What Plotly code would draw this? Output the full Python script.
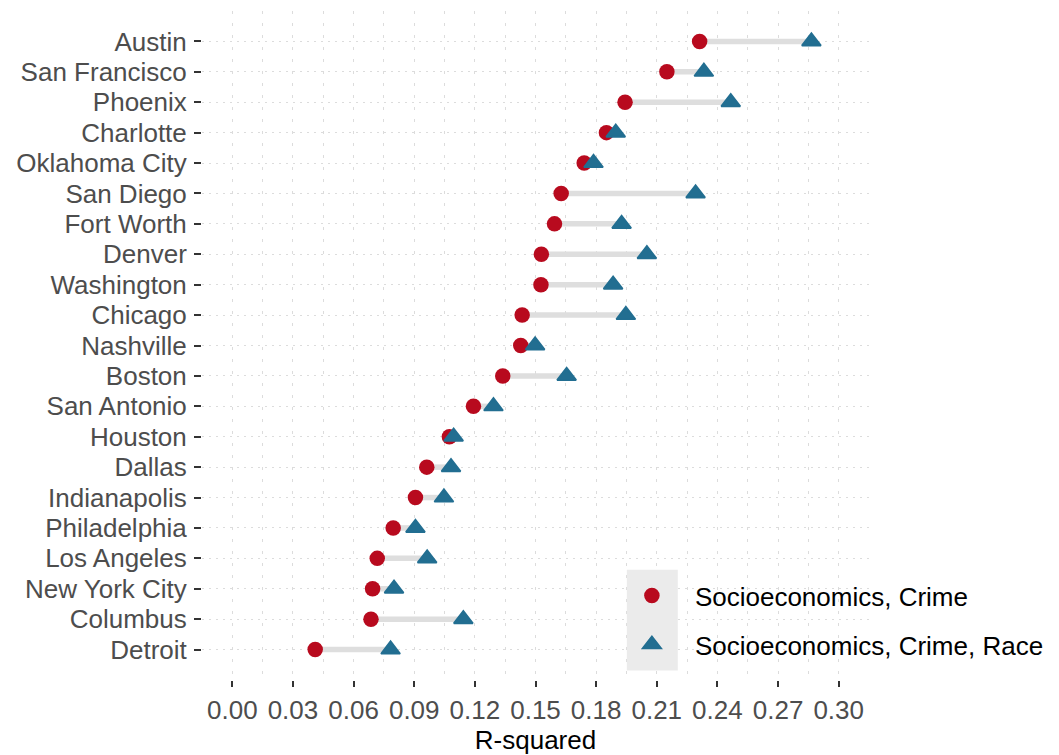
import plotly.graph_objects as go

cities = ["Austin", "San Francisco", "Phoenix", "Charlotte", "Oklahoma City",
          "San Diego", "Fort Worth", "Denver", "Washington", "Chicago",
          "Nashville", "Boston", "San Antonio", "Houston", "Dallas",
          "Indianapolis", "Philadelphia", "Los Angeles", "New York City",
          "Columbus", "Detroit"]
r2_socio_crime = [0.2312, 0.2150, 0.1943, 0.1851, 0.1741,
                  0.1627, 0.1594, 0.1529, 0.1527, 0.1434,
                  0.1427, 0.1338, 0.1193, 0.1074, 0.0962,
                  0.0906, 0.0796, 0.0717, 0.0694,
                  0.0686, 0.0410]
r2_socio_crime_race = [0.2865, 0.2333, 0.2466, 0.1897, 0.1787,
                       0.2292, 0.1926, 0.2051, 0.1884, 0.1947,
                       0.1498, 0.1654, 0.1292, 0.1095, 0.1082,
                       0.1047, 0.0906, 0.0964, 0.0800,
                       0.1143, 0.0783]
series_names = ["Socioeconomics, Crime", "Socioeconomics, Crime, Race"]
x_ticks = [0.00, 0.03, 0.06, 0.09, 0.12, 0.15, 0.18, 0.21, 0.24, 0.27, 0.30]

RED = "#B80A1E"
BLUE = "#226E91"
FONT = "Liberation Sans"

seg_x, seg_y = [], []
for c, a, b in zip(cities, r2_socio_crime, r2_socio_crime_race):
    seg_x += [a, b, None]
    seg_y += [c, c, None]

fig = go.Figure()
fig.add_trace(go.Scatter(x=seg_x, y=seg_y, mode="lines",
                         line=dict(color="#DEDEDE", width=5.5),
                         showlegend=False, hoverinfo="skip"))
fig.add_trace(go.Scatter(x=r2_socio_crime, y=cities, mode="markers",
                         name=series_names[0], legendgroup="a",
                         marker=dict(symbol="circle", size=15.5, color=RED)))
fig.add_trace(go.Scatter(x=r2_socio_crime_race, y=cities, mode="markers",
                         name=series_names[1], legendgroup="b",
                         marker=dict(symbol="triangle-up", size=16.5, color=BLUE,
                                     line=dict(color=BLUE, width=1.8))))

# page body has an 8px default margin: figure origin sits at (8, 8)
OFF = 8
L, R, T, B = 201.5, 869.5, 10.5, 680.5
W, H = 1059, 755
pw, ph = R - L, B - T

def px_x(p):
    return (p - L) / pw

def px_y(p):
    return (B - p) / ph

fig.add_shape(type="rect", xref="paper", yref="paper",
              x0=px_x(627), x1=px_x(678), y0=px_y(671), y1=px_y(570),
              fillcolor="#EBEBEB", line=dict(width=0), layer="above")

fig.update_layout(
    width=W - OFF, height=H - OFF,
    margin=dict(l=L - OFF, r=W - R, t=T - OFF, b=H - B),
    plot_bgcolor="white", paper_bgcolor="white",
    font=dict(family=FONT, size=26, color="#4D4D4D"),
    legend=dict(x=px_x(609), y=px_y(572.5), xanchor="left", yanchor="top",
                bgcolor="rgba(0,0,0,0)", font=dict(size=26, color="black", family=FONT),
                itemwidth=76, tracegroupgap=12),
    xaxis=dict(range=[-0.015, 0.315], tickmode="array", tickvals=x_ticks,
               ticktext=[f"{v:.2f}" for v in x_ticks],
               showgrid=True, gridcolor="#DCDCDC", gridwidth=1, griddash="3px,9px",
               minor=dict(tickvals=[v + 0.015 for v in x_ticks] + [-0.015],
                          showgrid=True, gridcolor="#DCDCDC", gridwidth=1,
                          griddash="3px,9px", ticks=""),
               ticks="outside", ticklen=6, tickwidth=2, tickcolor="#333333",
               ticklabelstandoff=1,
               zeroline=False, showline=False,
               tickfont=dict(size=26, color="#4D4D4D"),
               title=dict(text="R-squared", font=dict(size=26, color="black"), standoff=2)),
    yaxis=dict(type="category", categoryorder="array",
               categoryarray=list(reversed(cities)), range=[-1, len(cities)],
               tickmode="array", tickvals=cities, ticktext=cities,
               showgrid=True, gridcolor="#DCDCDC", gridwidth=1, griddash="2px,5px",
               ticks="outside", ticklen=7, tickwidth=2, tickcolor="#333333",
               ticklabelstandoff=2,
               zeroline=False, showline=False,
               tickfont=dict(size=26, color="#4D4D4D")),
)

fig.write_html("out.html")
